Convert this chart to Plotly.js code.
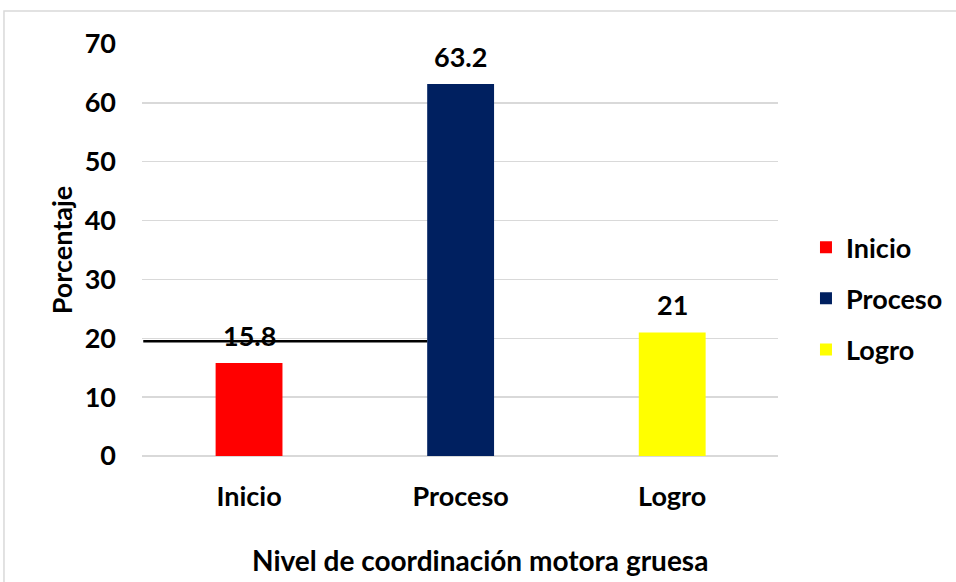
<!DOCTYPE html>
<html><head><meta charset="utf-8">
<script src="https://cdn.plot.ly/plotly-3.0.1.min.js"></script>
<style>html,body{margin:0;padding:0;background:#fff}#chart{width:956px;height:582px}</style>
</head><body><div id="chart"></div>
<script>
const categories = ["Inicio", "Proceso", "Logro"];
const values = [15.8, 63.2, 21];
const labels = ["15.8", "63.2", "21"];
const colors = ["#ff0000", "#002060", "#ffff00"];
const yTicks = [0, 10, 20, 30, 40, 50, 60, 70];
const refLevel = [19.5];
const xTitle = "Nivel de coordinación motora gruesa";
const yTitle = "Porcentaje";

const FONT = "Lato, 'Open Sans', sans-serif";
const FS = 27;
const bargap = 0.684;

const traces = categories.map((c, i) => ({
  type: "bar", x: [c], y: [values[i]], name: c,
  marker: {color: colors[i]}, legendgroup: c,
  hoverinfo: "x+y"
}));

const annotations = categories.map((c, i) => ({
  x: c, y: values[i], xref: "x", yref: "y", text: labels[i],
  showarrow: false, yanchor: "bottom", yshift: 9,
  font: {family: FONT, size: FS, color: "#000", weight: 700}
}));
annotations.push({
  text: xTitle, xref: "paper", yref: "paper", x: 0.531, y: -0.252,
  xanchor: "center", yanchor: "middle", showarrow: false,
  font: {family: FONT, size: 28, color: "#000", weight: 700}
});

const halfW = (1 - bargap) / 2;
const shapes = [
  {type: "rect", xref: "paper", yref: "paper", x0: -0.217, x1: 1.29, y0: -0.33, y1: 1.080,
   line: {color: "#d9d9d9", width: 1.5}, fillcolor: "rgba(0,0,0,0)", layer: "below"},
  {type: "line", xref: "x", yref: "y", x0: -0.5, x1: 1 - halfW, y0: refLevel[0], y1: refLevel[0],
   line: {color: "#000", width: 2.5}}
];

const layout = {
  width: 956, height: 582,
  margin: {l: 142, r: 178, t: 44, b: 126, autoexpand: false},
  paper_bgcolor: "#fff", plot_bgcolor: "#fff",
  font: {family: FONT, size: FS, color: "#000", weight: 700},
  barmode: "overlay", bargap: bargap,
  showlegend: true,
  legend: {x: 1.044, xanchor: "left", y: 0.565, yanchor: "top",
           font: {family: FONT, size: FS, color: "#000", weight: 700},
           tracegroupgap: 13, bgcolor: "rgba(0,0,0,0)"},
  xaxis: {type: "category", categoryorder: "array", categoryarray: categories,
          showgrid: false, zeroline: false, showline: false, ticks: "",
          ticklabelstandoff: 22},
  yaxis: {range: [0, 70], tickvals: yTicks, ticktext: yTicks.map(String),
          showgrid: true, gridcolor: "#d9d9d9", gridwidth: 1.5,
          zeroline: true, zerolinecolor: "#d9d9d9", zerolinewidth: 1.5,
          showline: false, ticks: "", ticklabelstandoff: 25,
          title: {text: yTitle, standoff: 4,
                  font: {family: FONT, size: FS, color: "#000", weight: 700}}},
  annotations: annotations,
  shapes: shapes
};

Plotly.newPlot("chart", traces, layout, {displayModeBar: false, staticPlot: true});
</script></body></html>
